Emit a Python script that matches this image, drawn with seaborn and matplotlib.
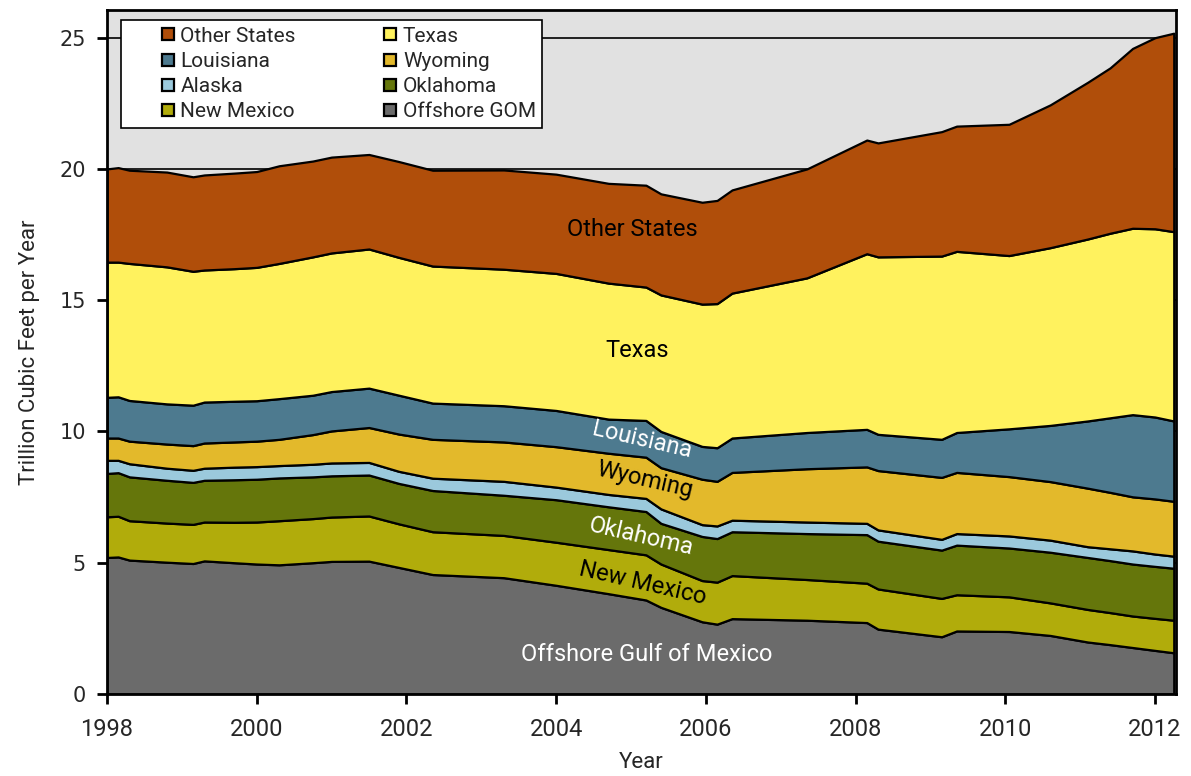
import matplotlib
matplotlib.use("Agg")
import matplotlib.pyplot as plt
import seaborn as sns
import pandas as pd
from matplotlib.lines import Line2D

# time axis (decimal years)
years = [1998.0, 1998.15, 1998.3, 1998.8, 1999.15, 1999.3, 1999.7, 2000.0, 2000.3, 2000.75,
         2001.0, 2001.5, 2001.9, 2002.35, 2003.3, 2004.0, 2004.7, 2005.2, 2005.4, 2005.95,
         2006.15, 2006.35, 2007.35, 2008.15, 2008.3, 2009.15, 2009.35, 2010.05, 2010.6, 2011.1,
         2011.4, 2011.7, 2012.0, 2012.25]

# production by region, trillion cubic feet per year
offshore_gom = [5.2, 5.22, 5.1, 5.02, 4.97, 5.07, 5.0, 4.95, 4.92, 5.0,
                5.05, 5.06, 4.82, 4.55, 4.43, 4.14, 3.82, 3.58, 3.3, 2.75,
                2.66, 2.87, 2.81, 2.72, 2.47, 2.18, 2.4, 2.38, 2.23, 1.98,
                1.88, 1.77, 1.66, 1.57]
new_mexico = [1.55, 1.55, 1.5, 1.49, 1.49, 1.48, 1.54, 1.6, 1.68, 1.68,
              1.69, 1.72, 1.66, 1.63, 1.61, 1.64, 1.68, 1.72, 1.65, 1.57,
              1.6, 1.64, 1.55, 1.5, 1.53, 1.46, 1.38, 1.32, 1.24, 1.24,
              1.22, 1.2, 1.22, 1.24]
oklahoma = [1.65, 1.66, 1.67, 1.63, 1.6, 1.59, 1.62, 1.63, 1.63, 1.59,
            1.57, 1.56, 1.54, 1.57, 1.53, 1.62, 1.63, 1.65, 1.55, 1.68,
            1.66, 1.67, 1.75, 1.85, 1.82, 1.84, 1.89, 1.86, 1.93, 1.98,
            1.98, 1.98, 1.98, 1.98]
alaska = [0.5, 0.47, 0.5, 0.46, 0.46, 0.46, 0.48, 0.48, 0.47, 0.48,
          0.49, 0.48, 0.46, 0.47, 0.53, 0.48, 0.47, 0.5, 0.55, 0.45,
          0.48, 0.44, 0.44, 0.43, 0.43, 0.41, 0.44, 0.46, 0.46, 0.41,
          0.45, 0.5, 0.47, 0.46]
wyoming = [0.85, 0.85, 0.86, 0.92, 0.94, 0.96, 0.96, 0.97, 1.0, 1.13,
           1.22, 1.33, 1.42, 1.48, 1.5, 1.54, 1.57, 1.57, 1.57, 1.73,
           1.7, 1.82, 2.03, 2.15, 2.26, 2.36, 2.33, 2.26, 2.23, 2.23,
           2.15, 2.06, 2.1, 2.09]
louisiana = [1.55, 1.57, 1.55, 1.53, 1.54, 1.56, 1.55, 1.54, 1.55, 1.5,
             1.5, 1.5, 1.48, 1.38, 1.38, 1.38, 1.3, 1.4, 1.38, 1.25,
             1.28, 1.31, 1.38, 1.43, 1.38, 1.45, 1.52, 1.82, 2.14, 2.56,
             2.84, 3.13, 3.12, 3.06]
texas = [5.15, 5.13, 5.22, 5.22, 5.1, 5.03, 5.05, 5.08, 5.15, 5.27,
         5.28, 5.3, 5.25, 5.22, 5.2, 5.22, 5.18, 5.08, 5.2, 5.42,
         5.49, 5.52, 5.89, 6.69, 6.76, 6.98, 6.9, 6.6, 6.77, 6.93,
         7.03, 7.1, 7.17, 7.21]
other_states = [3.55, 3.6, 3.55, 3.61, 3.6, 3.62, 3.64, 3.65, 3.72, 3.65,
                3.65, 3.6, 3.65, 3.65, 3.78, 3.78, 3.8, 3.88, 3.85, 3.88,
                3.93, 3.93, 4.15, 4.33, 4.34, 4.74, 4.77, 5.0, 5.44, 5.97,
                6.3, 6.85, 7.28, 7.56]

series = ["Offshore GOM", "New Mexico", "Oklahoma", "Alaska",
          "Wyoming", "Louisiana", "Texas", "Other States"]
colors = ["#6b6b6b", "#b1ac0b", "#65760b", "#9bc9dc",
          "#e3b92b", "#4d7a8f", "#fff25e", "#b04e0a"]

df = pd.DataFrame({"Year": years, "Offshore GOM": offshore_gom, "New Mexico": new_mexico,
                   "Oklahoma": oklahoma, "Alaska": alaska, "Wyoming": wyoming,
                   "Louisiana": louisiana, "Texas": texas, "Other States": other_states})

sns.set_style("ticks")
narrow = ["Liberation Sans Narrow", "Roboto", "DejaVu Sans"]
plt.rcParams["font.family"] = ["DejaVu Sans"]

fig = plt.figure(figsize=(11.91, 7.76), dpi=100)
ax = fig.add_axes([0.0898, 0.1057, 0.8976, 0.8813])
ax.set_facecolor("#e1e1e1")

ax.stackplot(df["Year"], *[df[s] for s in series], colors=colors,
             edgecolor="black", linewidth=1.6, zorder=2)

ax.set_xlim(1998, 2012.28)
ax.set_ylim(0, 26.05)
ax.set_xticks(range(1998, 2013, 2))
ax.set_yticks(range(0, 26, 5))
ax.yaxis.grid(True, color="black", linewidth=1.2, zorder=1)
ax.set_axisbelow(True)
for sp in ax.spines.values():
    sp.set_linewidth(2)
    sp.set_color("black")
    sp.set_zorder(5)
ax.tick_params(axis="both", direction="out", length=7, width=2, color="black")
ax.tick_params(axis="y", labelsize=15, pad=8)
ax.tick_params(axis="x", labelsize=17, pad=10)
for lab in ax.get_xticklabels():
    lab.set_family(narrow)

ax.set_xlabel("Year", fontsize=16, family=narrow, labelpad=8)
ax.set_ylabel("Trillion Cubic Feet per Year", fontsize=16, family=narrow, labelpad=14)

# legend: column-first ordering, small squares indented inside the box
order = ["Other States", "Louisiana", "Alaska", "New Mexico",
         "Texas", "Wyoming", "Oklahoma", "Offshore GOM"]
cmap = dict(zip(series, colors))
handles = [Line2D([], [], linestyle="none", marker="s", markersize=9,
                  markerfacecolor=cmap[s], markeredgecolor="black",
                  markeredgewidth=1.6, label=s) for s in order]
leg = ax.legend(handles=handles, ncol=2, loc="upper left", bbox_to_anchor=(0.013, 0.985),
                frameon=True, fancybox=False, edgecolor="black", framealpha=1,
                prop={"family": narrow, "size": 15}, handlelength=3.9,
                handletextpad=-1.35, columnspacing=2.6, labelspacing=0.3,
                borderpad=0.3, borderaxespad=0)
leg.get_frame().set_linewidth(1.2)
leg.set_zorder(6)

# in-chart labels
lab_kw = dict(ha="center", va="center", fontsize=17, family=narrow, zorder=4)
ax.text(2005.02, 17.68, "Other States", color="black", **lab_kw)
ax.text(2005.08, 13.1, "Texas", color="black", **lab_kw)
ax.text(2005.14, 9.68, "Louisiana", color="white", rotation=-13, **lab_kw)
ax.text(2005.18, 8.15, "Wyoming", color="black", rotation=-13, **lab_kw)
ax.text(2005.14, 5.98, "Oklahoma", color="white", rotation=-13, **lab_kw)
ax.text(2005.16, 4.23, "New Mexico", color="black", rotation=-13, **lab_kw)
ax.text(2005.21, 1.49, "Offshore Gulf of Mexico", color="white", **lab_kw)

fig.savefig("out.png", dpi=100)
